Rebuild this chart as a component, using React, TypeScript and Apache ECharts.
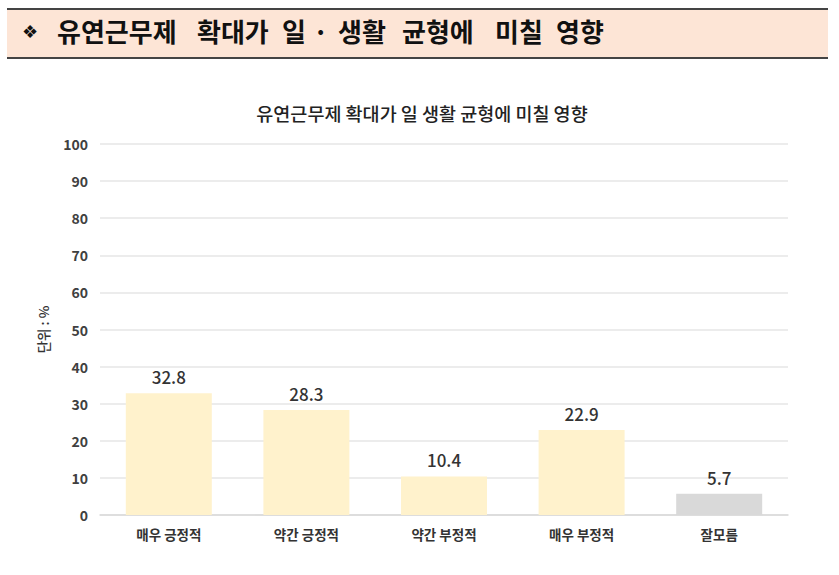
import React, { useEffect, useRef } from "react";
import * as echarts from "echarts";

const categories = ["매우 긍정적", "약간 긍정적", "약간 부정적", "매우 부정적", "잘모름"];
const values = [32.8, 28.3, 10.4, 22.9, 5.7];
const barColors = ["#FFF2CC", "#FFF2CC", "#FFF2CC", "#FFF2CC", "#D9D9D9"];
const chartTitle = "유연근무제 확대가 일 생활 균형에 미칠 영향";
const headerWords = ["유연근무제", "확대가", "일", "·", "생활", "균형에", "미칠", "영향"];
const headerWordX = [57, 197, 282, 313, 338, 402, 495, 556];
const yAxisName = "단위 : %";

const FONT = "'Noto Sans CJK KR', 'Noto Sans', sans-serif";

export default function App() {
  const ref = useRef<HTMLDivElement>(null);
  useEffect(() => {
    if (!ref.current) return;
    const chart = echarts.init(ref.current, null, { renderer: "svg" });
    const headerTexts = headerWords.map((w, i) => ({
      type: "text",
      left: headerWordX[i],
      top: 17,
      style: {
        text: w,
        fill: "#111",
        font: `bold 26px ${FONT}`,
      },
    }));
    chart.setOption({
      animation: false,
      backgroundColor: "#ffffff",
      textStyle: { fontFamily: FONT },
      title: {
        text: chartTitle,
        left: 417,
        textAlign: "center",
        top: 99,
        textStyle: { fontSize: 18.5, fontWeight: 500, color: "#222", fontFamily: FONT },
      },
      graphic: [
        {
          type: "rect",
          shape: { x: 7, y: 9, width: 821, height: 49 },
          style: { fill: "#FDE5D6" },
        },
        {
          type: "line",
          shape: { x1: 7, y1: 9, x2: 828, y2: 9 },
          style: { stroke: "#444", lineWidth: 2 },
        },
        {
          type: "line",
          shape: { x1: 7, y1: 58, x2: 828, y2: 58 },
          style: { stroke: "#444", lineWidth: 2 },
        },
        {
          type: "text",
          left: 22,
          top: 22,
          style: { text: "❖", fill: "#111", font: `bold 18px 'DejaVu Sans', sans-serif` },
        },
        ...headerTexts,
      ],
      grid: { left: 100, right: 51, top: 144, bottom: 60, containLabel: false },
      xAxis: {
        type: "category",
        data: categories,
        axisTick: { show: false },
        axisLine: { lineStyle: { color: "#D9D9D9", width: 1.5 } },
        axisLabel: { color: "#333", fontSize: 13.5, fontWeight: "bold", margin: 12, fontFamily: FONT },
      },
      yAxis: {
        type: "value",
        min: 0,
        max: 100,
        interval: 10,
        name: yAxisName,
        nameLocation: "middle",
        nameGap: 50,
        nameRotate: 90,
        nameTextStyle: { color: "#333", fontSize: 13.5, fontWeight: 500, fontFamily: FONT },
        axisLine: { show: false },
        axisTick: { show: false },
        splitLine: { lineStyle: { color: "#E6E6E6", width: 1.5 } },
        axisLabel: { color: "#404040", fontSize: 14, fontWeight: 600, margin: 12, fontFamily: FONT },
      },
      series: [
        {
          type: "bar",
          barWidth: "62.5%",
          data: values.map((v, i) => ({ value: v, itemStyle: { color: barColors[i] } })),
          label: {
            show: true,
            position: "top",
            distance: 8,
            color: "#333",
            fontSize: 17,
            fontWeight: 500,
            fontFamily: FONT,
          },
        },
      ],
    });
    return () => chart.dispose();
  }, []);
  return (
    <div
      ref={ref}
      style={{ position: "fixed", left: 0, top: 0, width: 839, height: 575, background: "#fff" }}
    />
  );
}
